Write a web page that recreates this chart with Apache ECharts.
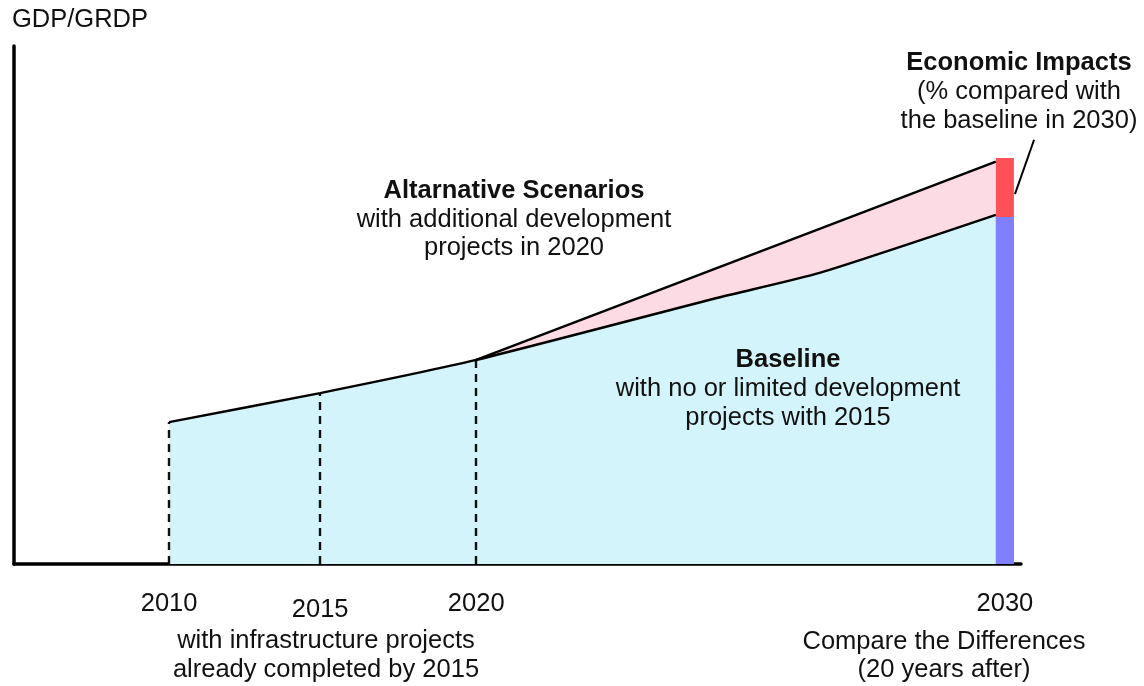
<!DOCTYPE html>
<html>
<head>
<meta charset="utf-8">
<script src="https://cdn.jsdelivr.net/npm/echarts@6/dist/echarts.min.js"></script>
<style>
html,body{margin:0;padding:0;background:#fff;}
#chart{width:1144px;height:686px;}
</style>
</head>
<body>
<div id="chart"></div>
<script>
// Diagram positions along the (abstract) time axis, 0..100
const tickPositions = [15.4, 30.4, 45.9, 98.4];
const tickLabels = ['2010', '2015', '2020', '2030'];

// Baseline GDP path (index units 0..100)
const baselineX = [15.4, 30.4, 45.9, 70.1, 80.0, 97.5];
const baselineY = [27.4, 33.0, 39.4, 51.5, 56.2, 67.4];

// Alternative scenario path (starts 2020)
const altX = [45.9, 97.5];
const altY = [39.4, 77.7];

// Dashed reference lines at 2010, 2015, 2020
const refX = [15.4, 30.4, 45.9];
const refY = [27.4, 33.0, 39.4];

// 2030 comparison bar
const barX = 98.4;
const baseline2030 = 67.0;
const alternative2030 = 78.4;

// Leader line for "Economic Impacts" note
const leaderFrom = [99.4, 71.4];
const leaderTo = [101.3, 81.9];

const FONT = '"Liberation Sans", Arial, Helvetica, sans-serif';
const FS = 25.5;
const TXT = '#111';

const zip = (xs, ys) => xs.map((x, i) => [x, ys[i]]);

const chart = echarts.init(document.getElementById('chart'), null, {renderer: 'canvas'});

const option = {
  animation: false,
  backgroundColor: '#fff',
  grid: {left: 14, right: 123, top: 46, bottom: 122, containLabel: false},
  xAxis: {
    type: 'value', min: 0, max: 100,
    splitLine: {show: false},
    axisTick: {show: false},
    axisLine: {show: true, onZero: false, lineStyle: {color: '#000', width: 3.5}},
    axisLabel: {
      customValues: tickPositions,
      margin: 27,
      fontFamily: FONT, fontSize: FS, color: TXT,
      formatter: function (v) {
        let best = 0;
        tickPositions.forEach((p, i) => { if (Math.abs(p - v) < Math.abs(tickPositions[best] - v)) best = i; });
        const lab = tickLabels[best];
        return lab === '2015' ? '{low|' + lab + '}' : lab;
      },
      rich: {low: {fontFamily: FONT, fontSize: FS, color: TXT, padding: [6, 0, 0, 0]}}
    }
  },
  yAxis: {
    type: 'value', min: 0, max: 100,
    name: 'GDP/GRDP',
    nameLocation: 'end',
    nameGap: 13,
    nameTextStyle: {fontFamily: FONT, fontSize: FS, color: TXT, align: 'left', padding: [0, 0, 0, -2]},
    splitLine: {show: false},
    axisTick: {show: false},
    axisLabel: {show: false},
    axisLine: {show: true, onZero: false, lineStyle: {color: '#000', width: 3.5}}
  },
  series: [
    {
      name: 'Alternative area',
      type: 'line',
      data: zip(altX, altY),
      symbol: 'none',
      lineStyle: {width: 0},
      areaStyle: {color: '#fddbe4', opacity: 1},
      z: 1
    },
    {
      name: 'Baseline area',
      type: 'line',
      data: zip(baselineX, baselineY),
      symbol: 'none',
      smooth: 0.2,
      lineStyle: {width: 0},
      areaStyle: {color: '#d3f4fa', opacity: 1},
      z: 2
    },
    {
      name: 'Alternative',
      type: 'line',
      data: zip(altX, altY),
      symbol: 'none',
      lineStyle: {color: '#000', width: 2.4},
      z: 5
    },
    {
      name: 'Baseline',
      type: 'line',
      data: zip(baselineX, baselineY),
      symbol: 'none',
      smooth: 0.2,
      lineStyle: {color: '#000', width: 2.4},
      z: 5,
      markLine: {
        silent: true,
        symbol: ['none', 'none'],
        label: {show: false},
        lineStyle: {color: '#111', width: 2.4, type: [8, 6]},
        data: refX.map((x, i) => [{coord: [x, 0]}, {coord: [x, refY[i]]}])
      }
    },
    {
      name: 'Alternative 2030',
      type: 'bar',
      data: [[barX, alternative2030]],
      barWidth: 18,
      barGap: '-100%',
      itemStyle: {color: '#ff5157'},
      z: 3
    },
    {
      name: 'Baseline 2030',
      type: 'bar',
      data: [[barX, baseline2030]],
      barWidth: 18,
      barGap: '-100%',
      itemStyle: {color: '#8080ff'},
      z: 4
    }
  ]
};
chart.setOption(option);

function txt(s, x, y, bold) {
  return {
    type: 'text', x: x, y: y, z: 100,
    style: {
      text: s, fill: TXT,
      font: (bold ? 'bold ' : '') + FS + 'px ' + FONT,
      align: 'center', verticalAlign: 'middle'
    }
  };
}

const p1 = chart.convertToPixel({gridIndex: 0}, leaderFrom);
const p2 = chart.convertToPixel({gridIndex: 0}, leaderTo);

chart.setOption({
  graphic: [
    {type: 'line', z: 100, shape: {x1: p1[0], y1: p1[1], x2: p2[0], y2: p2[1]}, style: {stroke: '#000', lineWidth: 2}},
    txt('Altarnative Scenarios', 514, 191, true),
    txt('with additional development', 514, 220),
    txt('projects in 2020', 514, 248),
    txt('Baseline', 788, 360, true),
    txt('with no or limited development', 788, 389),
    txt('projects with 2015', 788, 418),
    txt('Economic Impacts', 1019, 63, true),
    txt('(% compared with', 1019, 92),
    txt('the baseline in 2030)', 1019, 121),
    txt('with infrastructure projects', 326, 641),
    txt('already completed by 2015', 326, 670),
    txt('Compare the Differences', 944, 642),
    txt('(20 years after)', 944, 670)
  ]
});
</script>
</body>
</html>
